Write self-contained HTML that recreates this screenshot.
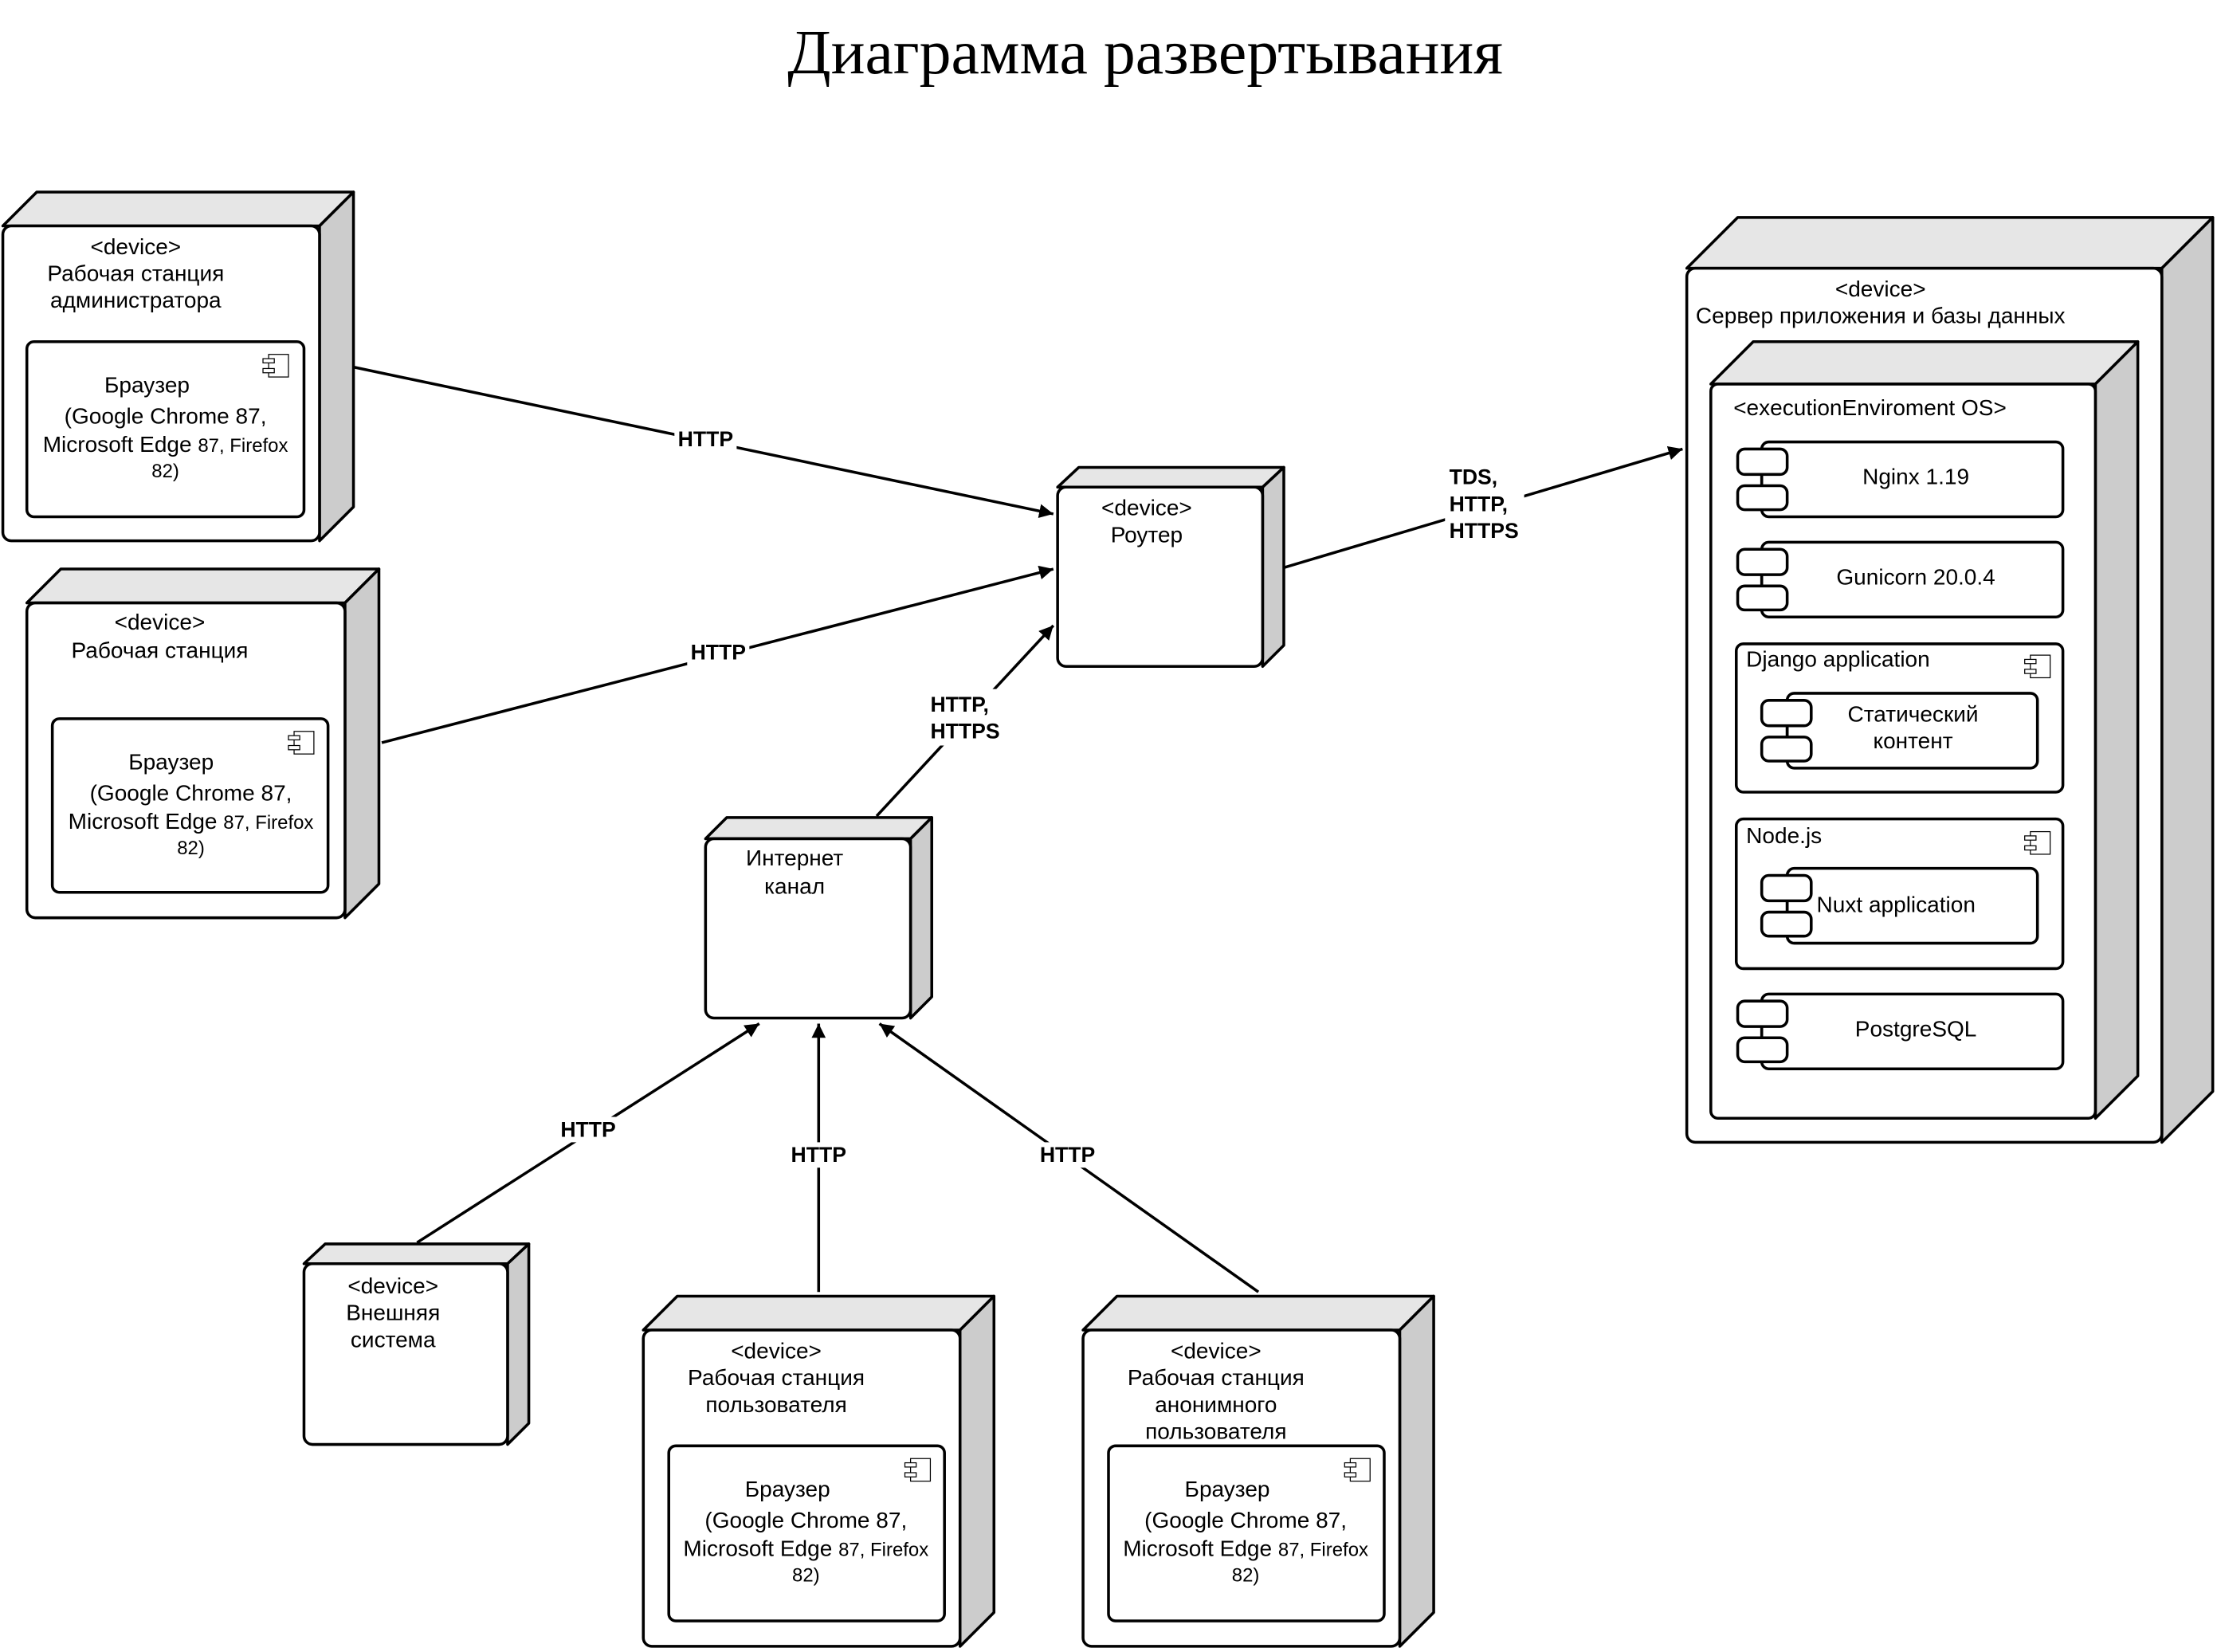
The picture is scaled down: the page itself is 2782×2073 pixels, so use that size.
<!DOCTYPE html>
<html><head><meta charset="utf-8"><style>html,body{margin:0;padding:0;background:#fff}svg{display:block}</style></head><body>
<svg width="2782" height="2073" viewBox="0 0 1568 1170" preserveAspectRatio="none" xmlns="http://www.w3.org/2000/svg" font-family="Liberation Sans, sans-serif" font-size="15.8">
<defs>
<marker id="a" viewBox="0 0 10 10" refX="10" refY="5" markerWidth="10" markerHeight="10" markerUnits="userSpaceOnUse" orient="auto"><path d="M0,0 L10,5 L0,10 z" fill="#000"/></marker>
<g id="ci"><rect x="0" y="0" width="14" height="16" fill="#fff" stroke="#000" stroke-width="0.7"/><rect x="-4" y="3" width="8" height="3" fill="#fff" stroke="#000" stroke-width="0.7"/><rect x="-4" y="10" width="8" height="3" fill="#fff" stroke="#000" stroke-width="0.7"/></g>
</defs>
<rect width="1568" height="1170" fill="#fff"/>
<text x="810" y="52" text-anchor="middle" font-family="Liberation Serif, serif" font-size="45">Диаграмма развертывания</text>

<g stroke="#000" stroke-width="2" stroke-linejoin="round">
<polygon points="2,160 26,136 250,136 226,160" fill="#e6e6e6"/>
<polygon points="226,160 250,136 250,359 226,383" fill="#ccc"/>
<rect x="2" y="160" width="224" height="223" rx="6" fill="#fff"/>
<rect x="19" y="242" width="196" height="124" rx="5" fill="#fff"/>
<polygon points="19,427 43,403 268,403 244,427" fill="#e6e6e6"/>
<polygon points="244,427 268,403 268,626 244,650" fill="#ccc"/>
<rect x="19" y="427" width="225" height="223" rx="6" fill="#fff"/>
<rect x="37" y="509" width="195" height="123" rx="5" fill="#fff"/>
<polygon points="748,345 763,331 908,331 893,345" fill="#e6e6e6"/>
<polygon points="893,345 908,331 908,457 893,472" fill="#ccc"/>
<rect x="748" y="345" width="145" height="127" rx="6" fill="#fff"/>
<polygon points="499,594 514,579 659,579 644,594" fill="#e6e6e6"/>
<polygon points="644,594 659,579 659,706 644,721" fill="#ccc"/>
<rect x="499" y="594" width="145" height="127" rx="6" fill="#fff"/>
<polygon points="215,895 230,881 374,881 359,895" fill="#e6e6e6"/>
<polygon points="359,895 374,881 374,1008 359,1023" fill="#ccc"/>
<rect x="215" y="895" width="144" height="128" rx="6" fill="#fff"/>
<polygon points="455,942 479,918 703,918 679,942" fill="#e6e6e6"/>
<polygon points="679,942 703,918 703,1142 679,1166" fill="#ccc"/>
<rect x="455" y="942" width="224" height="224" rx="6" fill="#fff"/>
<rect x="473" y="1024" width="195" height="124" rx="5" fill="#fff"/>
<polygon points="766,942 790,918 1014,918 990,942" fill="#e6e6e6"/>
<polygon points="990,942 1014,918 1014,1142 990,1166" fill="#ccc"/>
<rect x="766" y="942" width="224" height="224" rx="6" fill="#fff"/>
<rect x="784" y="1024" width="195" height="124" rx="5" fill="#fff"/>
<polygon points="1193,190 1229,154 1565,154 1529,190" fill="#e6e6e6"/>
<polygon points="1529,190 1565,154 1565,773 1529,809" fill="#ccc"/>
<rect x="1193" y="190" width="336" height="619" rx="6" fill="#fff"/>
<polygon points="1210,272 1240,242 1512,242 1482,272" fill="#e6e6e6"/>
<polygon points="1482,272 1512,242 1512,762 1482,792" fill="#ccc"/>
<rect x="1210" y="272" width="272" height="520" rx="5" fill="#fff"/>
<rect x="1246" y="313" width="213" height="53" rx="5" fill="#fff"/>
<line x1="1246" y1="336" x2="1246" y2="344"/>
<rect x="1229" y="318" width="35" height="18" rx="5" fill="#fff"/><rect x="1229" y="344" width="35" height="17" rx="5" fill="#fff"/>
<rect x="1246" y="384" width="213" height="53" rx="5" fill="#fff"/>
<line x1="1246" y1="407" x2="1246" y2="415"/>
<rect x="1229" y="389" width="35" height="18" rx="5" fill="#fff"/><rect x="1229" y="415" width="35" height="17" rx="5" fill="#fff"/>
<rect x="1228" y="456" width="231" height="105" rx="5" fill="#fff"/>
<rect x="1264" y="491" width="177" height="53" rx="5" fill="#fff"/>
<line x1="1264" y1="514" x2="1264" y2="522"/>
<rect x="1246" y="496" width="35" height="18" rx="5" fill="#fff"/><rect x="1246" y="522" width="35" height="17" rx="5" fill="#fff"/>
<rect x="1228" y="580" width="231" height="106" rx="5" fill="#fff"/>
<rect x="1264" y="615" width="177" height="53" rx="5" fill="#fff"/>
<line x1="1264" y1="638" x2="1264" y2="646"/>
<rect x="1246" y="620" width="35" height="18" rx="5" fill="#fff"/><rect x="1246" y="646" width="35" height="17" rx="5" fill="#fff"/>
<rect x="1246" y="704" width="213" height="53" rx="5" fill="#fff"/>
<line x1="1246" y1="727" x2="1246" y2="735"/>
<rect x="1229" y="709" width="35" height="18" rx="5" fill="#fff"/><rect x="1229" y="735" width="35" height="17" rx="5" fill="#fff"/>
</g>
<use href="#ci" x="190" y="251"/>
<use href="#ci" x="208" y="518"/>
<use href="#ci" x="644" y="1033"/>
<use href="#ci" x="955" y="1033"/>
<use href="#ci" x="1436" y="464"/>
<use href="#ci" x="1436" y="589"/>

<g stroke="#000" stroke-width="2" fill="none">
<line x1="250" y1="260" x2="745" y2="364" marker-end="url(#a)"/>
<line x1="270" y1="526" x2="745" y2="403" marker-end="url(#a)"/>
<line x1="620" y1="578" x2="745" y2="443" marker-end="url(#a)"/>
<line x1="908" y1="402" x2="1190" y2="318" marker-end="url(#a)"/>
<line x1="295" y1="880" x2="537" y2="725" marker-end="url(#a)"/>
<line x1="579" y1="915" x2="579" y2="725" marker-end="url(#a)"/>
<line x1="890" y1="915" x2="622" y2="725" marker-end="url(#a)"/>
</g>
<g font-weight="bold" font-size="15">
<rect x="477" y="302" width="44" height="18" fill="#fff"/><text x="499" y="316" text-anchor="middle">HTTP</text>
<rect x="486" y="453" width="44" height="18" fill="#fff"/><text x="508" y="467" text-anchor="middle">HTTP</text>
<rect x="655" y="488" width="56" height="40" fill="#fff"/><text x="658" y="504">HTTP,</text><text x="658" y="523">HTTPS</text>
<rect x="1022" y="328" width="56" height="58" fill="#fff"/><text x="1025" y="343">TDS,</text><text x="1025" y="362">HTTP,</text><text x="1025" y="381">HTTPS</text>
<rect x="394" y="791" width="44" height="18" fill="#fff"/><text x="416" y="805" text-anchor="middle">HTTP</text>
<rect x="557" y="809" width="44" height="18" fill="#fff"/><text x="579" y="823" text-anchor="middle">HTTP</text>
<rect x="733" y="809" width="44" height="18" fill="#fff"/><text x="755" y="823" text-anchor="middle">HTTP</text>
</g>

<g text-anchor="middle">
<text x="96" y="180">&lt;device&gt;</text><text x="96" y="199">Рабочая станция</text><text x="96" y="218">администратора</text>
<text x="104" y="278">Браузер</text><text x="117" y="300">(Google Chrome 87,</text><text x="117" y="320">Microsoft Edge <tspan font-size="13.5">87, Firefox</tspan></text><text x="117" y="338" font-size="13.5">82)</text>
<text x="113" y="446">&lt;device&gt;</text><text x="113" y="466">Рабочая станция</text>
<text x="121" y="545">Браузер</text><text x="135" y="567">(Google Chrome 87,</text><text x="135" y="587">Microsoft Edge <tspan font-size="13.5">87, Firefox</tspan></text><text x="135" y="605" font-size="13.5">82)</text>
<text x="811" y="365">&lt;device&gt;</text><text x="811" y="384">Роутер</text>
<text x="562" y="613">Интернет</text><text x="562" y="633">канал</text>
<text x="278" y="916">&lt;device&gt;</text><text x="278" y="935">Внешняя</text><text x="278" y="954">система</text>
<text x="549" y="962">&lt;device&gt;</text><text x="549" y="981">Рабочая станция</text><text x="549" y="1000">пользователя</text>
<text x="557" y="1060">Браузер</text><text x="570" y="1082">(Google Chrome 87,</text><text x="570" y="1102">Microsoft Edge <tspan font-size="13.5">87, Firefox</tspan></text><text x="570" y="1120" font-size="13.5">82)</text>
<text x="860" y="962">&lt;device&gt;</text><text x="860" y="981">Рабочая станция</text><text x="860" y="1000">анонимного</text><text x="860" y="1019">пользователя</text>
<text x="868" y="1060">Браузер</text><text x="881" y="1082">(Google Chrome 87,</text><text x="881" y="1102">Microsoft Edge <tspan font-size="13.5">87, Firefox</tspan></text><text x="881" y="1120" font-size="13.5">82)</text>
<text x="1330" y="210">&lt;device&gt;</text><text x="1330" y="229">Сервер приложения и базы данных</text>
<text x="1355" y="343">Nginx 1.19</text>
<text x="1355" y="414">Gunicorn 20.0.4</text>
<text x="1353" y="511">Статический</text><text x="1353" y="530">контент</text>
<text x="1341" y="646">Nuxt application</text>
<text x="1355" y="734">PostgreSQL</text>
</g>
<text x="1226" y="294">&lt;executionEnviroment OS&gt;</text>
<text x="1235" y="472">Django application</text>
<text x="1235" y="597">Node.js</text>
</svg>
</body></html>
